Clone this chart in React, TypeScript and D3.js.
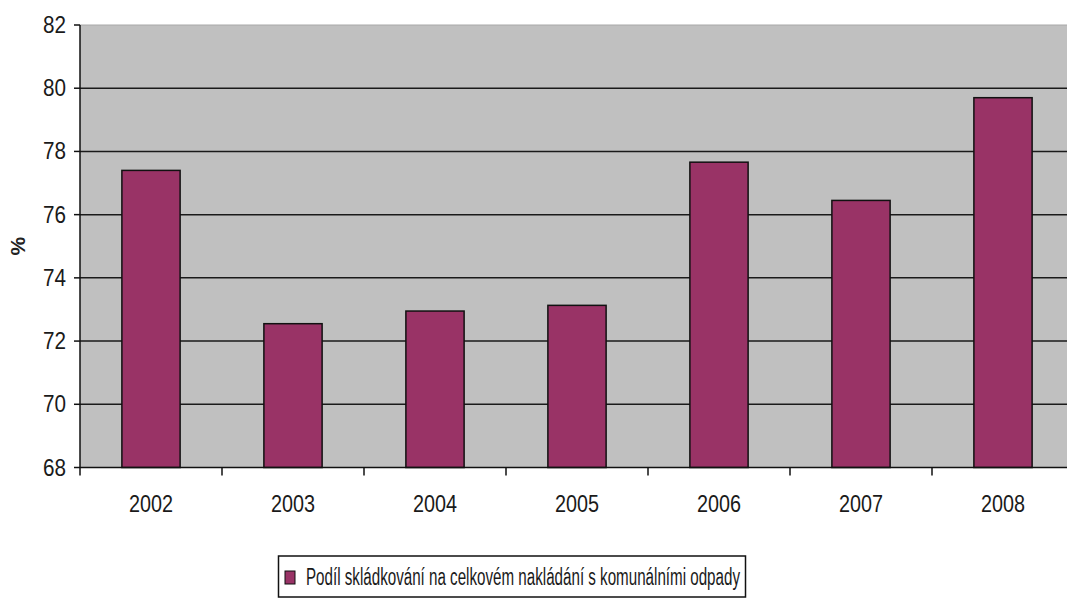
import React from "react";
import * as d3 from "d3";

const categories = ["2002", "2003", "2004", "2005", "2006", "2007", "2008"];
const values = [77.4, 72.55, 72.95, 73.13, 77.66, 76.45, 79.7];
const yTicks = [68, 70, 72, 74, 76, 78, 80, 82];
const seriesName = "Podíl skládkování na celkovém nakládání s komunálními odpady";
const yTitle = "%";

const W = 1067;
const H = 599;
const left = 80;
const top = 25;
const bottom = 467.5;
const right = 1074;
const FONT = "'Liberation Sans', Arial, sans-serif";

export default function App() {
  const x = d3.scaleBand<string>().domain(categories).range([left, right]).paddingInner(0.59).paddingOuter(0.295);
  const xb = d3.scaleBand<string>().domain(categories).range([left, right]);
  const y = d3.scaleLinear().domain([68, 82]).range([bottom, top]);

  return (
    <div style={{ position: "absolute", left: 0, top: 0 }}>
      <svg width={W} height={H} style={{ display: "block", background: "#fff" }}>
        <rect x={left} y={top} width={right - left} height={bottom - top} fill="#c0c0c0" />
        <line x1={left} x2={right} y1={top} y2={top} stroke="#a8a8a8" strokeWidth={1} />
        {yTicks.filter((t) => t !== 68 && t !== 82).map((t) => (
          <line key={"g" + t} x1={left} x2={right} y1={y(t)} y2={y(t)} stroke="#1a1a1a" strokeWidth={1.5} />
        ))}
        {categories.map((c, i) => (
          <rect
            key={c}
            x={x(c)}
            y={y(values[i])}
            width={x.bandwidth()}
            height={bottom - y(values[i])}
            fill="#993366"
            stroke="#111"
            strokeWidth={1.5}
          />
        ))}
        {/* axes */}
        <line x1={left} x2={left} y1={top} y2={bottom + 8} stroke="#111" strokeWidth={1.5} />
        <line x1={left} x2={right} y1={bottom} y2={bottom} stroke="#111" strokeWidth={1.5} />
        {yTicks.map((t) => (
          <g key={"y" + t}>
            <line x1={left - 6} x2={left} y1={y(t)} y2={y(t)} stroke="#111" strokeWidth={1.5} />
            <text
              x={66}
              y={y(t)}
              textAnchor="end"
              dominantBaseline="central"
              fontFamily={FONT}
              fontSize={23}
              fill="#1a1a1a"
              textLength={23}
              lengthAdjust="spacingAndGlyphs"
            >
              {t}
            </text>
          </g>
        ))}
        {categories.map((c) => (
          <g key={"x" + c}>
            <line x1={xb(c)! + xb.bandwidth()} x2={xb(c)! + xb.bandwidth()} y1={bottom} y2={bottom + 8} stroke="#111" strokeWidth={1.5} />
            <text
              x={xb(c)! + xb.bandwidth() / 2}
              y={511.5}
              textAnchor="middle"
              fontFamily={FONT}
              fontSize={24}
              fill="#1a1a1a"
              textLength={44}
              lengthAdjust="spacingAndGlyphs"
            >
              {c}
            </text>
          </g>
        ))}
        <text
          transform={`translate(25,${(top + bottom) / 2}) rotate(-90)`}
          textAnchor="middle"
          fontFamily={FONT}
          fontSize={21}
          fontWeight="bold"
          fill="#222"
        >
          {yTitle}
        </text>
        {/* legend */}
        <rect x={278.5} y={556} width={467} height={41} fill="#fff" stroke="#111" strokeWidth={1.5} />
        <rect x={285} y={571} width={10} height={13} fill="#993366" stroke="#111" strokeWidth={1} />
        <text
          x={306}
          y={585}
          fontFamily={FONT}
          fontSize={23}
          fill="#1a1a1a"
          textLength={434}
          lengthAdjust="spacingAndGlyphs"
        >
          {seriesName}
        </text>
      </svg>
    </div>
  );
}
